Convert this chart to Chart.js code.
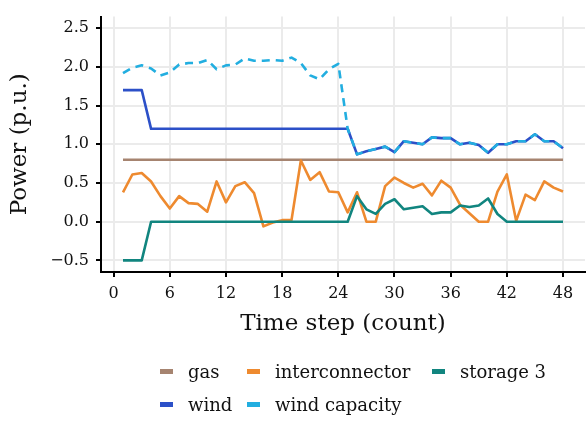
<!DOCTYPE html>
<html>
<head>
<meta charset="utf-8">
<title>Power by time step</title>
<script src="https://cdn.jsdelivr.net/npm/chart.js@4/dist/chart.umd.min.js"></script>
<style>
  html, body { margin: 0; padding: 0; background: #fff; }
  #wrap { position: relative; width: 586px; height: 421px; }
  #legend {
    position: absolute;
    left: 160px;
    top: 355px;
    display: grid;
    grid-template-columns: 87px 185px auto;
    grid-auto-rows: 33px;
    font-family: "DejaVu Serif", serif;
    font-size: 18px;
    color: #111;
  }
  .item { display: flex; align-items: center; white-space: nowrap; }
  .swatch { width: 13px; height: 5px; margin-right: 15px; }
</style>
</head>
<body>
<div id="wrap">
  <canvas id="powerChart" width="586" height="421"></canvas>
  <div id="legend"></div>
</div>
<script>
// ------------------------------
// DATA
// ------------------------------

const timeSteps = Array.from({ length: 48 }, (_, i) => i + 1);

const gas = [
  0.8, 0.8, 0.8, 0.8, 0.8, 0.8, 0.8, 0.8, 0.8, 0.8, 0.8, 0.8,
  0.8, 0.8, 0.8, 0.8, 0.8, 0.8, 0.8, 0.8, 0.8, 0.8, 0.8, 0.8,
  0.8, 0.8, 0.8, 0.8, 0.8, 0.8, 0.8, 0.8, 0.8, 0.8, 0.8, 0.8,
  0.8, 0.8, 0.8, 0.8, 0.8, 0.8, 0.8, 0.8, 0.8, 0.8, 0.8, 0.8
];

const interconnector = [
  0.38, 0.61, 0.63, 0.52, 0.33, 0.17, 0.33, 0.24, 0.23, 0.13, 0.52, 0.25,
  0.46, 0.51, 0.37, -0.06, -0.01, 0.02, 0.02, 0.79, 0.54, 0.64, 0.39, 0.38,
  0.12, 0.38, 0.0, 0.0, 0.46, 0.57, 0.50, 0.44, 0.49, 0.34, 0.53, 0.44,
  0.22, 0.11, 0.0, 0.0, 0.39, 0.61, 0.01, 0.35, 0.28, 0.52, 0.44, 0.39
];

const storage3 = [
  -0.5, -0.5, -0.5, 0, 0, 0, 0, 0, 0, 0, 0, 0,
  0, 0, 0, 0, 0, 0, 0, 0, 0, 0, 0, 0,
  0, 0.33, 0.16, 0.10, 0.23, 0.29, 0.16, 0.18, 0.20, 0.10, 0.12, 0.12,
  0.21, 0.19, 0.21, 0.30, 0.10, 0, 0, 0, 0, 0, 0, 0
];

const wind = [
  1.7, 1.7, 1.7, 1.2, 1.2, 1.2, 1.2, 1.2, 1.2, 1.2, 1.2, 1.2,
  1.2, 1.2, 1.2, 1.2, 1.2, 1.2, 1.2, 1.2, 1.2, 1.2, 1.2, 1.2,
  1.2, 0.87, 0.91, 0.94, 0.97, 0.90, 1.04, 1.02, 1.00, 1.09, 1.08, 1.08,
  1.00, 1.02, 0.99, 0.89, 1.00, 1.00, 1.04, 1.04, 1.13, 1.04, 1.04, 0.95
];

const windCapacity = [
  1.92, 1.99, 2.02, 1.98, 1.89, 1.93, 2.03, 2.05, 2.05, 2.09, 1.97, 2.02,
  2.03, 2.11, 2.08, 2.08, 2.09, 2.08, 2.12, 2.05, 1.89, 1.84, 1.97, 2.04,
  1.2, 0.87, 0.91, 0.94, 0.97, 0.90, 1.04, 1.02, 1.00, 1.09, 1.08, 1.08,
  1.00, 1.02, 0.99, 0.89, 1.00, 1.00, 1.04, 1.04, 1.13, 1.04, 1.04, 0.95
];

const xTicks = [0, 6, 12, 18, 24, 30, 36, 42, 48];
const yTicks = [-0.5, 0, 0.5, 1.0, 1.5, 2.0, 2.5];

// ------------------------------
// HELPERS
// ------------------------------

const FONT = "DejaVu Serif";

function toPoints(values) {
  return timeSteps.map((t, i) => ({ x: t, y: values[i] }));
}

function makeLine(label, values, color, order, dash) {
  return {
    label,
    data: toPoints(values),
    borderColor: color,
    backgroundColor: color,
    borderWidth: 2.6,
    borderDash: dash || [],
    borderCapStyle: "butt",
    borderJoinStyle: "round",
    pointRadius: 0,
    tension: 0,
    order
  };
}

function formatY(value) {
  return value.toFixed(1).replace("-", "\u2212");
}

// ------------------------------
// CHART
// ------------------------------

const datasets = [
  makeLine("gas", gas, "#a68470", 4),
  makeLine("interconnector", interconnector, "#ee8a2f", 3),
  makeLine("storage 3", storage3, "#11857f", 2),
  makeLine("wind", wind, "#2c50c8", 1),
  makeLine("wind capacity", windCapacity, "#22aee0", 0, [8, 6])
];

const gridStyle = {
  color: "#ebebeb",
  lineWidth: 2,
  tickColor: "#000",
  tickLength: 5,
  tickWidth: 2
};

const chart = new Chart(document.getElementById("powerChart"), {
  type: "line",
  data: { datasets },
  options: {
    responsive: false,
    animation: false,
    devicePixelRatio: 1,
    layout: { padding: { top: 7, right: 1, bottom: 76, left: 0 } },
    plugins: {
      legend: { display: false },
      tooltip: { enabled: false }
    },
    scales: {
      x: {
        type: "linear",
        min: -1.35,
        max: 50.35,
        afterBuildTicks(scale) {
          scale.ticks = xTicks.map((v) => ({ value: v }));
        },
        afterFit(scale) {
          scale.height = 73;
        },
        ticks: {
          color: "#111",
          padding: 7,
          maxRotation: 0,
          font: { family: FONT, size: 16 }
        },
        grid: gridStyle,
        border: { display: true, color: "#000", width: 2 },
        title: {
          display: true,
          text: "Time step (count)",
          color: "#111",
          font: { family: FONT, size: 23 },
          padding: { top: 0, bottom: 7 }
        }
      },
      y: {
        min: -0.65,
        max: 2.65,
        afterBuildTicks(scale) {
          scale.ticks = yTicks.map((v) => ({ value: v }));
        },
        afterFit(scale) {
          scale.width = 101;
        },
        ticks: {
          color: "#111",
          padding: 7,
          font: { family: FONT, size: 16 },
          callback(value) {
            return formatY(value);
          }
        },
        grid: gridStyle,
        border: { display: true, color: "#000", width: 2 },
        title: {
          display: true,
          text: "Power (p.u.)",
          color: "#111",
          font: { family: FONT, size: 23 },
          padding: { top: 6, bottom: 0 }
        }
      }
    }
  }
});

// ------------------------------
// LEGEND (ggplot-style grid, 3 columns)
// ------------------------------

function buildLegend() {
  const box = document.getElementById("legend");
  chart.data.datasets.forEach((ds) => {
    const item = document.createElement("div");
    item.className = "item";
    const sw = document.createElement("span");
    sw.className = "swatch";
    sw.style.background = ds.borderColor;
    const txt = document.createElement("span");
    txt.textContent = ds.label;
    item.appendChild(sw);
    item.appendChild(txt);
    box.appendChild(item);
  });
}

buildLegend();
</script>
</body>
</html>
